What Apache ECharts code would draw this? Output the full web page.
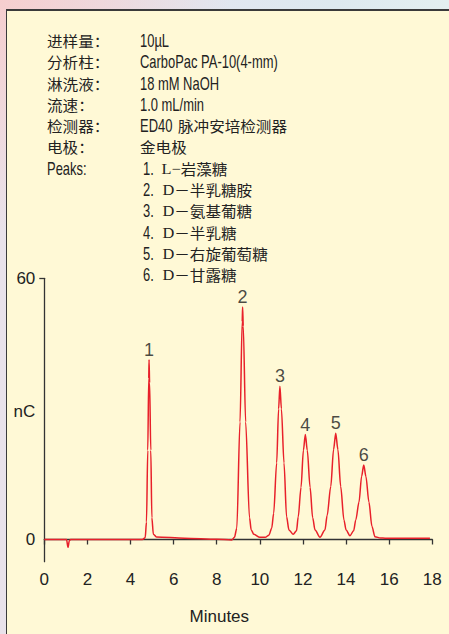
<!DOCTYPE html>
<html>
<head>
<meta charset="utf-8">
<script src="https://cdn.jsdelivr.net/npm/echarts@6/dist/echarts.min.js"></script>
<style>
html,body{margin:0;padding:0;width:449px;height:634px;overflow:hidden;}
body{background:
  radial-gradient(circle at 0 0, rgba(246,205,205,0.95) 0, rgba(246,205,205,0) 230px),
  linear-gradient(90deg,#e9e2ea 0%,#e2e6f0 45%,#dde9ef 75%,#e4eff0 100%);}
#frame{position:absolute;left:6px;top:9px;width:443px;height:625px;background:#fff9d6;
  border-left:1.5px solid #3a3a3a;border-top:2px solid #3a3a3a;box-sizing:border-box;}
#chart{position:absolute;left:0;top:0;width:449px;height:634px;}
</style>
</head>
<body>
<div id="frame"></div>
<div id="chart"></div>
<script>
// ---- data ----
const infoLabels = ['进样量：', '分析柱：', '淋洗液：', '流速：', '检测器：', '电极：', 'Peaks:'];
const infoValuesLatin = ['10µL', 'CarboPac PA-10(4-mm)', '18 mM NaOH', '1.0 mL/min', 'ED40', ''];
const infoValuesCJK = ['', '', '', '', '脉冲安培检测器', '金电极'];
const peakNumbers = ['1', '2', '3', '4', '5', '6'];
const peakPrefixes = ['L−', 'D', 'D', 'D', 'D', 'D'];
const peakCompounds = ['岩藻糖', '－半乳糖胺', '－氨基葡糖', '－半乳糖', '－右旋葡萄糖', '－甘露糖'];
const peakTimes = [4.86, 9.20, 10.93, 12.11, 13.52, 14.82];
const peakHeights = [41.3, 53.4, 35.2, 24.1, 24.4, 17.1];

const timeMin = [0, 0.9, 1.03, 1.1, 1.16, 1.22, 2.5, 4.55, 4.68, 4.74, 4.80, 4.845, 4.86, 4.885, 4.94, 4.99, 5.06, 5.2, 6.5, 8.0, 8.7,
  8.82, 8.93, 9.08, 9.18, 9.2, 9.23, 9.34, 9.52, 9.6, 9.72, 10.0, 10.25,
  10.42, 10.55, 10.64, 10.78, 10.87, 10.93, 11.0, 11.12, 11.24, 11.35, 11.55,
  11.7, 11.78, 11.91, 12.02, 12.11, 12.2, 12.33, 12.45, 12.56, 12.79,
  13.02, 13.12, 13.29, 13.42, 13.52, 13.62, 13.75, 13.9, 14.0, 14.18,
  14.35, 14.45, 14.6, 14.72, 14.82, 14.92, 15.06, 15.2, 15.34, 15.6, 15.81, 17.89];
const signalNC = [0, 0, 0, -1.8, -0.3, 0, 0, 0, 0.4, 4, 20.5, 37, 41.3, 36, 20.5, 5, 1.2, 0.6, 0.3, 0.05, -0.1,
  0.5, 2.6, 27, 50, 53.4, 49, 27, 5, 2.2, 1.2, 0.5, 0.5,
  1, 2.6, 6, 17.6, 30, 35.2, 30, 17.6, 5.2, 2.2, 1.2,
  2.0, 5.2, 12, 20.5, 24.1, 20.5, 12, 5, 2.2, 0.5,
  2.2, 5.5, 12.2, 20.7, 24.4, 20.7, 12.2, 4.5, 2.2, 0.87,
  2, 4.5, 8.6, 14.5, 17.1, 14.5, 8.6, 3, 0.64, 0.35, 0.3, 0.3];
const xTicks = {min: 0, max: 18, interval: 2};
const yLabelValues = [0, 60];
const yTickValues = [60];

// ---- chart ----
const FONT = "'Liberation Sans',Arial,sans-serif";
const CJK = "'Noto Sans CJK SC',sans-serif";
const SERIF = "'Liberation Serif',serif";
const TXT = '#222222';
const AX = '#333333';
const NARROW = 0.74;
const LATIN_SIZE = 17.5;
const CJK_SIZE = 14.3;
const CJK_WIDE = 1.09;

const graphic = [];
const rowTop = 40.7, rowStep = 21.3;
function latin(x, y, text) {
  graphic.push({type: 'text', x: x, y: y, scaleX: NARROW,
    style: {text: text, fontSize: LATIN_SIZE, lineHeight: 18, fontFamily: FONT, fill: TXT, verticalAlign: 'middle'}});
}
function cjk(x, y, text) {
  graphic.push({type: 'text', x: x, y: y, scaleX: CJK_WIDE,
    style: {text: text, fontSize: CJK_SIZE, lineHeight: 18, fontFamily: CJK, fill: TXT, verticalAlign: 'middle'}});
}
infoLabels.forEach((t, i) => {
  const y = rowTop + i * rowStep;
  if (i === 6) latin(47, y, t); else cjk(47, y, t);
});
infoValuesLatin.forEach((t, i) => {
  const y = rowTop + i * rowStep;
  if (t) latin(140, y, t);
  if (infoValuesCJK[i]) cjk(t ? 178 : 140, y, infoValuesCJK[i]);
});
peakNumbers.forEach((n, i) => {
  const y = rowTop + (6 + i) * rowStep;
  latin(143, y, n + '.');
  graphic.push({type: 'text', x: i === 0 ? 161.5 : 162.5, y: y, scaleX: CJK_WIDE,
    style: {
      text: '{s|' + peakPrefixes[i] + '}{c|' + peakCompounds[i] + '}',
      verticalAlign: 'middle', fill: TXT, lineHeight: 18,
      rich: {
        s: {fontSize: 15, lineHeight: 18, fontFamily: SERIF, fill: TXT},
        c: {fontSize: CJK_SIZE, lineHeight: 18, fontFamily: CJK, fill: TXT}
      }
    }});
});

const option = {
  animation: false,
  backgroundColor: 'transparent',
  grid: {left: 44.3, right: 16.7, top: 278.3, bottom: 72.3, containLabel: false, outerBoundsMode: 'none'},
  xAxis: {
    type: 'value', min: xTicks.min, max: xTicks.max, interval: xTicks.interval,
    axisLine: {show: true, lineStyle: {color: AX, width: 1.3}},
    axisTick: {show: true, length: 5, lineStyle: {color: AX, width: 1.3}},
    axisLabel: {margin: 9, fontSize: 17, fontFamily: FONT, color: TXT},
    splitLine: {show: false},
    name: 'Minutes', nameLocation: 'middle', nameGap: 46, nameMoveOverlap: false,
    nameTextStyle: {fontSize: 17, fontFamily: FONT, color: TXT, padding: [0, 38, 0, 0]}
  },
  yAxis: {
    type: 'value', min: -5.1, max: 60,
    axisLine: {show: true, lineStyle: {color: AX, width: 1.3}},
    axisTick: {show: true, length: 5, customValues: yTickValues, lineStyle: {color: AX, width: 1.3}},
    axisLabel: {customValues: yLabelValues, margin: 9, fontSize: 17, fontFamily: FONT, color: TXT},
    splitLine: {show: false},
    name: 'nC', nameLocation: 'middle', nameRotate: 0, nameGap: 9, nameMoveOverlap: false,
    nameTextStyle: {fontSize: 17, fontFamily: FONT, color: TXT, verticalAlign: 'bottom'}
  },
  series: [
    {
      type: 'line', data: timeMin.map((t, i) => [t, signalNC[i]]),
      showSymbol: false, smooth: 0.3, smoothMonotone: 'x',
      lineStyle: {color: '#e8202a', width: 1.5}, silent: true, z: 3
    },
    {
      type: 'scatter', data: peakTimes.map((t, i) => [t, peakHeights[i]]),
      symbolSize: 0, silent: true,
      label: {show: true, position: 'top', distance: 1, fontSize: 18, fontFamily: FONT, color: '#1a1a1a',
        formatter: p => peakNumbers[p.dataIndex]}
    }
  ],
  graphic: graphic
};
const chart = echarts.init(document.getElementById('chart'), null, {renderer: 'svg'});
chart.setOption(option);
</script>
</body>
</html>
